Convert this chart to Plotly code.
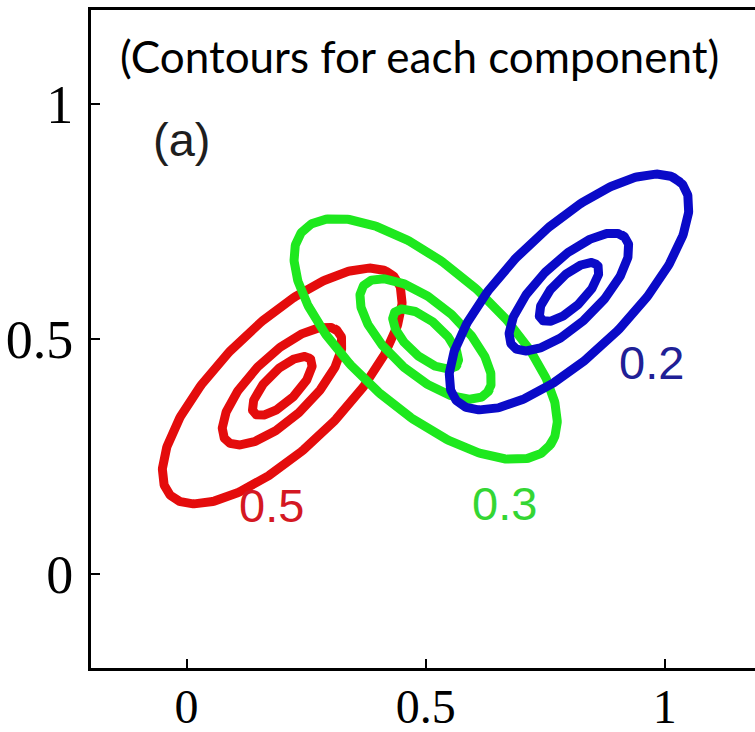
import numpy as np
import plotly.graph_objects as go

# Mixture components: weight label, centre, ellipse shape of the outer contour
weights = ["0.5", "0.3", "0.2"]
center_x = [0.2, 0.5, 0.8]
center_y = [0.4, 0.5, 0.6]
semi_major = [0.33, 0.345, 0.33]
semi_minor = [0.13, 0.15, 0.13]
tilt_deg = [45, -42, 45]
# three contour levels per component, as a fraction of the outer ellipse
ring_scale = [1.0, 0.5, 0.25]

line_colors = ["rgb(228,12,12)", "rgb(30,232,30)", "rgb(10,10,200)"]
text_colors = ["rgb(212,24,34)", "rgb(52,214,52)", "rgb(32,32,150)"]
label_x = [0.178, 0.665, 0.973]
label_y = [0.145, 0.149, 0.449]

tick_vals = [0, 0.5, 1]
tick_text = ["0", "0.5", "1"]

fig = go.Figure()
# run slightly past a full turn so the stroke closes without a notch
t = np.linspace(0, 2 * np.pi + 0.15, 380)
for i in range(len(weights)):
    th = np.deg2rad(tilt_deg[i])
    for s in ring_scale:
        u = s * semi_major[i] * np.cos(t)
        v = s * semi_minor[i] * np.sin(t)
        xs = center_x[i] + u * np.cos(th) - v * np.sin(th)
        ys = center_y[i] + u * np.sin(th) + v * np.cos(th)
        fig.add_trace(go.Scatter(
            x=xs, y=ys, mode="lines",
            line=dict(color=line_colors[i], width=9),
            hoverinfo="skip", showlegend=False,
        ))
    fig.add_annotation(
        x=label_x[i], y=label_y[i], text=weights[i], showarrow=False,
        font=dict(family="Liberation Sans, Arial", size=47, color=text_colors[i]),
        xref="x", yref="y",
    )

fig.add_annotation(
    x=-0.01, y=0.925, text="(a)", showarrow=False, xref="x", yref="y",
    font=dict(family="Liberation Sans, Arial", size=47, color="rgb(30,30,30)"),
)
fig.add_annotation(
    x=0.487, y=1.102, text="(Contours for each component)", showarrow=False,
    xref="x", yref="y",
    font=dict(family="Lato", size=44, color="black"),
)

axis_common = dict(
    showline=True, linecolor="black", linewidth=3, mirror=True,
    ticks="inside", ticklen=9, tickwidth=2, tickcolor="black",
    tickvals=tick_vals, ticktext=tick_text,
    showgrid=False, zeroline=False, automargin=False,
)
fig.update_layout(
    width=755, height=732,
    margin=dict(l=91, r=0, t=10, b=64),
    paper_bgcolor="white", plot_bgcolor="white",
    xaxis=dict(range=[-0.2, 1.189], ticklabelstandoff=-6,
               tickfont=dict(family="Liberation Serif, Times New Roman", size=48, color="black"),
               **axis_common),
    yaxis=dict(range=[-0.2, 1.2], ticklabelstandoff=4,
               tickfont=dict(family="Liberation Serif, Times New Roman", size=54, color="black"),
               **axis_common),
)

fig.write_html("out.html")
